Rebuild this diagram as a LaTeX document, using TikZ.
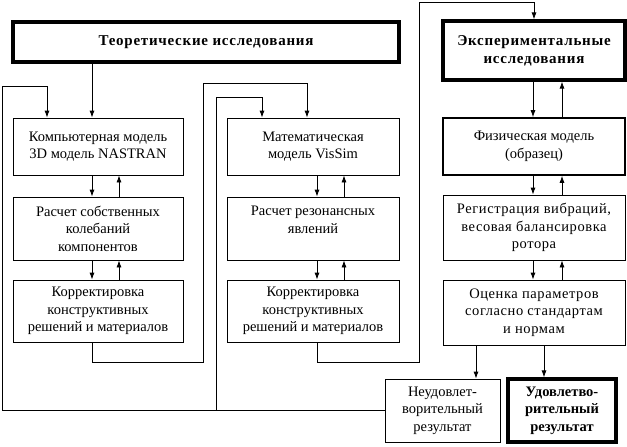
\documentclass[tikz,border=0pt]{standalone}
\usepackage{fontspec}
\setmainfont{Liberation Serif}
\usetikzlibrary{arrows.meta}

\begin{document}
\begin{tikzpicture}[x=1pt, y=-1pt,
    font=\fontsize{14.5}{17.5}\selectfont,
    blk/.style={draw, line width=0.8pt, align=center, inner sep=0pt},
    heavyblk/.style={blk, line width=3.2pt},
    midblk/.style={blk, line width=1.6pt},
    wide/.style={font=\fontsize{14.5}{17.5}\selectfont\addfontfeatures{LetterSpace=4}},
    hd/.style={font=\fontsize{15}{18}\selectfont\bfseries\addfontfeatures{LetterSpace=5}},
    arr/.style={-{Latex[length=7pt,width=5pt]}, line width=0.8pt}]
    \useasboundingbox (0,0) rectangle (627,447);

    % headers
    \node[heavyblk, hd, minimum width=386pt, minimum height=40pt] (teor) at (206,42) {Теоретические исследования};
    \node[heavyblk, hd, minimum width=182pt, minimum height=59pt] (exper) at (534,50.5) {Экспериментальные\\исследования};

    % column 1
    \node[blk, minimum width=170pt, minimum height=57pt] (comp) at (98,146.5) {Компьютерная модель\\3D модель NASTRAN};
    \node[blk, minimum width=170pt, minimum height=63pt] (calc1) at (98,228.5) {Расчет собственных\\колебаний\\компонентов};
    \node[blk, minimum width=170pt, minimum height=62pt] (corr1) at (98,311) {Корректировка\\конструктивных\\решений и материалов};

    % column 2
    \node[blk, minimum width=172pt, minimum height=57pt] (math) at (313,146.5) {Математическая\\модель VisSim};
    \node[blk, minimum width=172pt, minimum height=63pt] (calc2) at (313,228.5) {Расчет резонансных\\явлений\\\mbox{}};
    \node[blk, minimum width=172pt, minimum height=62pt] (corr2) at (313,311) {Корректировка\\конструктивных\\решений и материалов};

    % column 3
    \node[midblk, minimum width=182pt, minimum height=57pt] (phys) at (534,146.5) {Физическая модель\\(образец)};
    \node[blk, wide, minimum width=182pt, minimum height=65pt] (reg) at (534,227.5) {Регистрация вибраций,\\весовая балансировка\\ротора};
    \node[blk, wide, minimum width=182pt, minimum height=65pt] (ocen) at (534,312.5) {Оценка параметров\\согласно стандартам\\и нормам};

    % results
    \node[blk, minimum width=115pt, minimum height=63pt] (neud) at (442.5,410.5) {Неудовлет-\\ворительный\\результат};
    \node[heavyblk, minimum width=108pt, minimum height=63pt, font=\fontsize{14.5}{17.5}\selectfont\bfseries] (udov) at (562,410.5) {Удовлетво-\\рительный\\результат};

    % helper points
    \coordinate (c1d) at (92,0);
    \coordinate (c1in) at (47,0);
    \coordinate (k1) at (203,362);
    \coordinate (k1t) at (307,83);
    \coordinate (c2d) at (317,0);
    \coordinate (k2) at (419,362);
    \coordinate (k2t) at (534,2);
    \coordinate (fbL) at (2,86);
    \coordinate (fbM) at (216,97);
    \coordinate (c2in) at (262,97);
    \coordinate (c3a) at (476,0);
    \coordinate (c3b) at (544,0);

    % links inside the columns
    \foreach \u/\v/\dl/\du in {comp/calc1/-6/21, calc1/corr1/-6/21,
        math/calc2/4/31, calc2/corr2/4/31,
        exper/phys/-1/28, phys/reg/-1/28, reg/ocen/-1/28}{
        \draw[arr] ([xshift=\dl pt]\u.south) -- ([xshift=\dl pt]\v.north);
        \draw[arr] ([xshift=\du pt]\v.north) -- ([xshift=\du pt]\u.south);
    }

    \draw[arr] (teor.south -| c1d) -- (comp.north -| c1d);

    % loops
    \draw[arr] (corr1.south -| c1d) |- (k1) |- (k1t) -- (k1t |- math.north);
    \draw[arr] (corr2.south -| c2d) |- (k2) |- (k2t) -- (exper.north);

    % results
    \draw[arr] (ocen.south -| c3a) -- (neud.north -| c3a);
    \draw[arr] (ocen.south -| c3b) -- (udov.north -| c3b);

    % feedback
    \draw[arr] (neud.west) -| (fbL) -| (comp.north -| c1in);
    \draw[arr] (neud.west -| fbM) -- (fbM) -- (c2in) -- (c2in |- math.north);
\end{tikzpicture}
\end{document}
